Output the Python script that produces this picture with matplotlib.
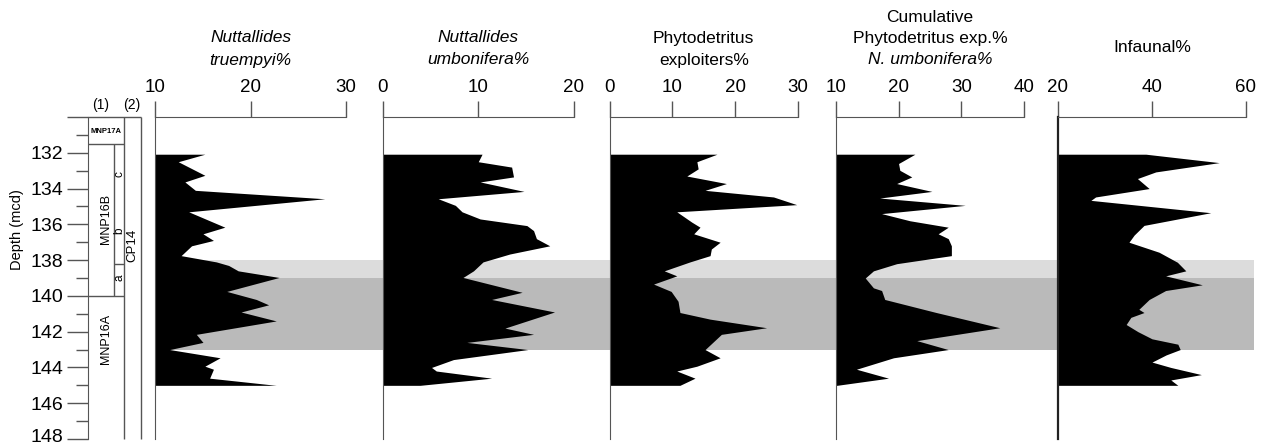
import matplotlib.pyplot as plt
from matplotlib.transforms import ScaledTranslation

plt.rcParams['font.family'] = ['Liberation Sans', 'DejaVu Sans']

# depth range of the plot (mcd)
depth_range = (148, 130)
depth_ticks = [130, 132, 134, 136, 138, 140, 142, 144, 146, 148]
depth_labels = ['', '132', '134', '136', '138', '140', '142', '144', '146', '148']

# shaded intervals
light_band = (138.0, 139.0)
dark_band = (139.0, 143.0)

# Nuttallides truempyi %
truempyi_depth = [132.08, 132.5, 133.26, 133.63, 134.1, 134.57, 135.3, 136.16, 136.53,
                  136.9, 137.2, 137.75, 138.1, 138.3, 138.6, 138.97, 139.75, 140.2,
                  140.5, 140.9, 141.4, 142.15, 142.6, 143.0, 143.46, 143.93, 144.1,
                  144.6, 145.0]
truempyi_pct = [15.2, 12.4, 15.2, 13.1, 14.2, 27.8, 13.5, 17.3, 15.0,
                16.1, 13.8, 12.7, 16.4, 17.7, 18.7, 23.0, 17.5, 20.6,
                21.9, 19.0, 22.7, 14.3, 15.0, 11.5, 16.8, 15.2, 16.1,
                15.7, 22.7]

# Nuttallides umbonifera %
umbonifera_depth = [132.08, 132.5, 132.8, 133.35, 133.63, 134.16, 134.57, 134.94, 135.3,
                    135.7, 136.07, 136.35, 136.8, 137.2, 137.66, 138.1, 138.6, 138.97,
                    139.8, 140.2, 140.9, 141.8, 142.15, 142.6, 143.0, 143.56, 144.0,
                    144.2, 144.6, 145.0]
umbonifera_pct = [10.4, 10.0, 13.5, 13.7, 10.2, 14.8, 5.8, 7.6, 8.3,
                  10.2, 15.1, 15.8, 16.1, 17.5, 13.3, 10.5, 9.5, 8.4,
                  14.6, 11.4, 18.0, 12.8, 15.8, 8.8, 15.2, 7.4, 5.1,
                  5.6, 11.4, 3.9]

# Phytodetritus exploiters %
phyto_depth = [132.08, 132.5, 132.9, 133.3, 133.72, 134.1, 134.47, 134.9, 135.3,
               135.88, 136.16, 136.53, 137.0, 137.38, 137.75, 138.1, 138.6, 138.88,
               139.34, 139.75, 140.3, 140.93, 141.3, 141.78, 142.15, 143.0, 143.46,
               143.93, 144.2, 144.6, 145.0]
phyto_pct = [17.1, 13.9, 14.1, 12.3, 18.6, 15.2, 26.1, 29.8, 10.7,
             13.1, 14.4, 13.4, 17.6, 16.2, 16.0, 12.8, 8.7, 10.7,
             7.0, 9.8, 10.9, 11.2, 16.0, 25.0, 17.8, 15.2, 17.6,
             13.9, 10.7, 13.6, 11.2]

# Cumulative phytodetritus exploiters % + N. umbonifera %
cumul_depth = [132.08, 132.6, 132.98, 133.35, 133.72, 134.16, 134.53, 134.94, 135.4,
               135.8, 136.16, 136.53, 136.8, 137.2, 137.75, 138.2, 138.6, 139.0,
               139.55, 139.7, 140.2, 140.93, 141.78, 142.5, 143.0, 143.46, 144.1,
               144.6, 145.0]
cumul_pct = [22.6, 20.0, 20.2, 22.1, 19.7, 25.3, 17.0, 30.6, 17.3,
             21.8, 27.9, 26.3, 27.9, 28.4, 28.4, 19.7, 16.0, 14.7,
             16.0, 17.3, 17.8, 26.0, 36.1, 22.9, 27.9, 19.2, 13.3,
             18.4, 10.2]

# Infaunal %
infaunal_depth = [132.08, 132.55, 133.07, 133.44, 134.0, 134.47, 134.66, 135.35, 136.06,
                  136.6, 137.0, 137.56, 138.12, 138.6, 138.88, 139.38, 139.7, 140.2,
                  140.75, 140.93, 141.2, 141.6, 142.0, 142.4, 142.7, 143.0, 143.3,
                  143.7, 144.0, 144.4, 144.7, 145.0]
infaunal_pct = [38.7, 54.3, 40.8, 36.9, 39.4, 28.0, 27.0, 52.5, 38.3,
                36.2, 35.1, 41.5, 45.4, 47.2, 42.9, 50.7, 42.9, 39.4,
                37.2, 38.3, 35.5, 34.5, 37.0, 40.0, 45.5, 46.0, 43.0,
                40.0, 44.0, 50.5, 44.0, 45.5]

W, H = 1266, 446
TOP, BOTTOM = 117, 439
LINE = '#555555'

fig = plt.figure(figsize=(W / 100, H / 100), dpi=100)


def px_axes(x0, x1):
    return fig.add_axes([x0 / W, 1 - BOTTOM / H, (x1 - x0) / W, (BOTTOM - TOP) / H])


# grey bands behind the panels
bg = px_axes(155, 1254)
bg.set_ylim(depth_range)
bg.axhspan(*light_band, color='#dcdcdc', lw=0)
bg.axhspan(*dark_band, color='#bababa', lw=0)
bg.axis('off')

# depth axis and zonation columns
col = px_axes(88, 141)
col.set_facecolor('none')
col.set_xlim(88, 141)
col.set_ylim(depth_range)
for s in ['top', 'right', 'bottom']:
    col.spines[s].set_visible(False)
col.spines['left'].set_color(LINE)
col.set_xticks([])
col.set_yticks(depth_ticks)
col.set_yticklabels(depth_labels)
col.set_yticks(range(131, 148, 2), minor=True)
col.tick_params(axis='y', which='major', length=15, width=1, color=LINE, labelsize=14, pad=3)
col.tick_params(axis='y', which='minor', length=8.5, width=1, color=LINE)
# keep the lowest label inside the picture
last = col.get_yticklabels()[-1]
last.set_transform(last.get_transform() + ScaledTranslation(0, 0.04, fig.dpi_scale_trans))
kw = dict(color=LINE, lw=1, clip_on=False)
col.hlines(130, 88, 141, **kw)
col.vlines([124, 141], 130, 148, **kw)
col.hlines([131.5, 140], 88, 124, **kw)
col.vlines(114, 131.5, 140, **kw)
col.hlines(138.2, 114, 124, **kw)
col.text(106, 130.8, 'MNP17A', fontsize=5.5, fontweight='bold', ha='center', va='center')
col.text(106, 135.7, 'MNP16B', fontsize=9, rotation=90, ha='center', va='center')
col.text(106, 142.4, 'MNP16A', fontsize=9, rotation=90, ha='center', va='center')
col.text(119.5, 133.2, 'c', fontsize=8.5, rotation=90, ha='center', va='center')
col.text(119.5, 136.35, 'b', fontsize=8.5, rotation=90, ha='center', va='center')
col.text(119.5, 139.0, 'a', fontsize=8.5, rotation=90, ha='center', va='center')
col.text(132.5, 137.2, 'CP14', fontsize=9.5, rotation=90, ha='center', va='center')
fig.text(101 / W, 1 - 105 / H, '(1)', fontsize=10, ha='center', va='center')
fig.text(132 / W, 1 - 105 / H, '(2)', fontsize=10, ha='center', va='center')
fig.text(17 / W, 1 - 230 / H, 'Depth (mcd)', fontsize=10.5, rotation=90, ha='center', va='center')


def panel(x0, x1, xlim, ticks, depth, values, title_lines):
    ax = px_axes(x0, x1)
    ax.set_facecolor('none')
    ax.fill_betweenx(depth, xlim[0], values, color='black', lw=0)
    ax.set_xlim(xlim)
    ax.set_ylim(depth_range)
    for s in ['right', 'bottom']:
        ax.spines[s].set_visible(False)
    for s in ['top', 'left']:
        ax.spines[s].set_color(LINE)
    ax.xaxis.tick_top()
    ax.set_xticks(ticks)
    ax.set_yticks([])
    ax.tick_params(axis='x', length=11.5, width=1, color=LINE, labelsize=13.5, pad=3.5)
    xc = (x0 + x1) / 2
    for text, y, style in title_lines:
        fig.text(xc / W, 1 - y / H, text, fontsize=12.5, style=style, ha='center', va='center')
    return ax


panel(155.4, 345.7, (10, 30), [10, 20, 30], truempyi_depth, truempyi_pct,
      [('Nuttallides', 38, 'italic'), ('truempyi%', 60, 'italic')])
panel(382.9, 573.6, (0, 20), [0, 10, 20], umbonifera_depth, umbonifera_pct,
      [('Nuttallides', 38, 'italic'), ('umbonifera%', 60, 'italic')])
panel(609.6, 798.0, (0, 30), [0, 10, 20, 30], phyto_depth, phyto_pct,
      [('Phytodetritus', 38, 'normal'), ('exploiters%', 60, 'normal')])
ax4 = panel(835.7, 1024.3, (10, 40), [10, 20, 30, 40], cumul_depth, cumul_pct,
            [('Cumulative', 17, 'normal'), ('Phytodetritus exp.%', 38, 'normal'),
             ('N. umbonifera%', 60, 'italic')])
ax5 = panel(1058, 1246, (20, 60), [20, 40, 60], infaunal_depth, infaunal_pct,
            [('Infaunal%', 48, 'normal')])
ax5.spines['left'].set_color('#222222')
ax5.spines['left'].set_linewidth(1.6)

fig.savefig('out.png', dpi=100)
